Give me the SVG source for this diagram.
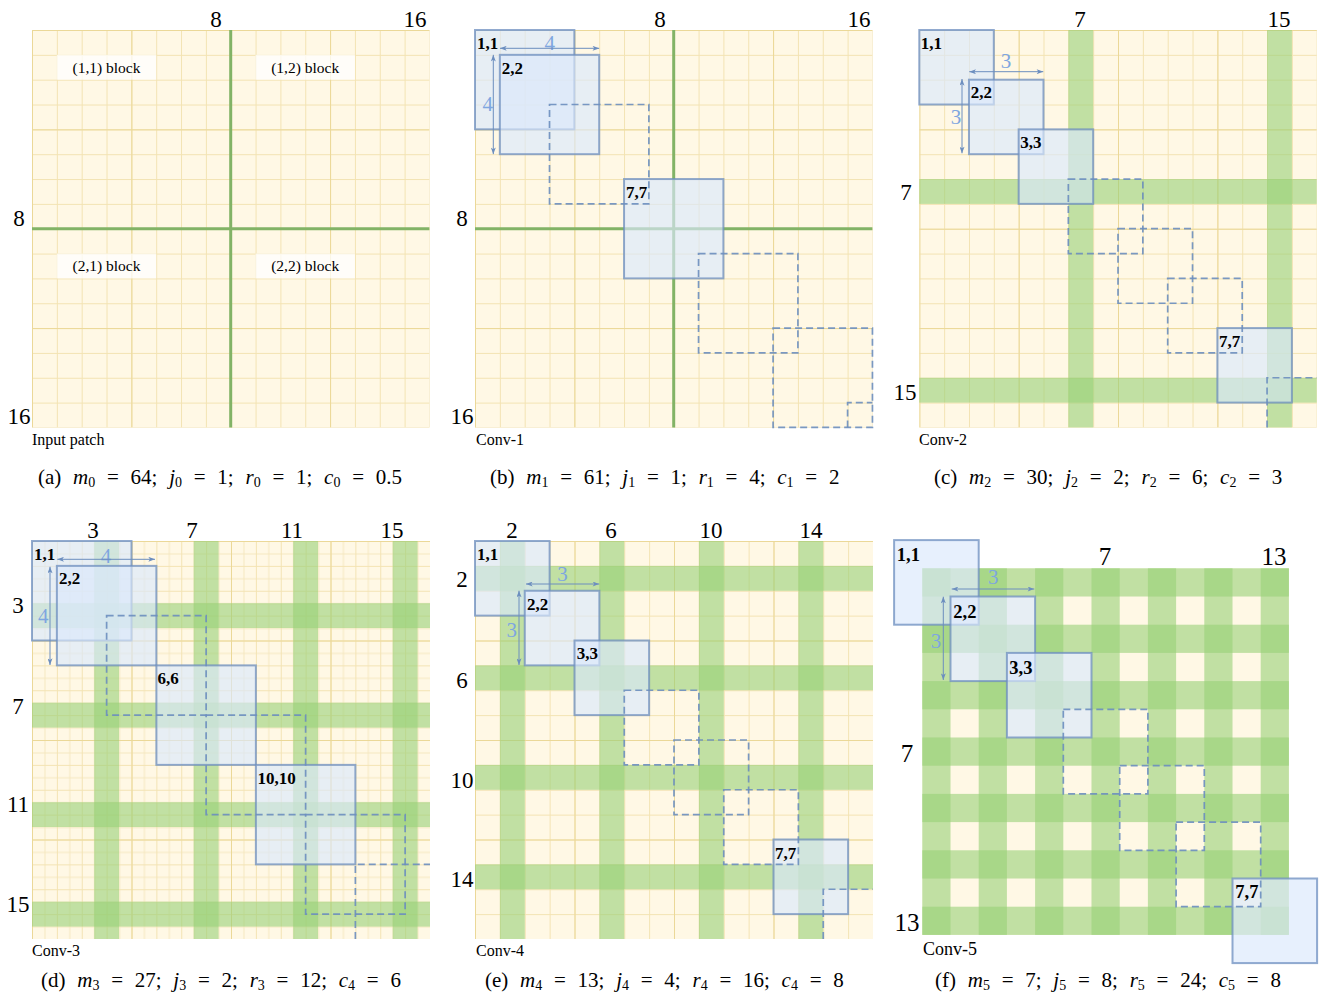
<svg xmlns="http://www.w3.org/2000/svg" width="1323" height="1004" viewBox="0 0 1323 1004">
<style>
.ax{font-family:"Liberation Serif",serif;font-size:23px;text-anchor:middle;fill:#000}
.axf{font-family:"Liberation Serif",serif;font-size:25px;text-anchor:middle;fill:#000}
.lb{font-family:"Liberation Serif",serif;font-size:17px;font-weight:bold;fill:#000}
.lbf{font-family:"Liberation Serif",serif;font-size:18.5px;font-weight:bold;fill:#000}
.cv{font-family:"Liberation Serif",serif;font-size:16px;fill:#000}
.cvf{font-family:"Liberation Serif",serif;font-size:18px;fill:#000}
.dim{font-family:"Liberation Serif",serif;font-size:21px;fill:#7ea6e0;text-anchor:middle}
.blk{font-family:"Liberation Serif",serif;font-size:15.5px;fill:#000;text-anchor:middle}
.cap{font-family:"Liberation Serif",serif;font-size:21px;fill:#000;word-spacing:6.5px}
.i{font-style:italic}
.s{font-size:14px}
.bg{fill:#fff8e5}
.band{fill:#97d077;fill-opacity:0.6}
.gl{stroke:#82b366;stroke-width:3}
.box{fill:#dae8fc;fill-opacity:0.65;stroke:#6c8ebf;stroke-opacity:0.75;stroke-width:2}
.dash{fill:none;stroke:#6c8ebf;stroke-width:1.7;stroke-dasharray:7 4;stroke-opacity:0.9}
.tag{fill:#fff;fill-opacity:0.75}
.arr{stroke:#6c8ebf;stroke-width:1;fill:none;marker-start:url(#ah);marker-end:url(#ah)}
</style>
<defs>
<marker id="ah" viewBox="0 0 8 6" refX="8" refY="3" markerWidth="7" markerHeight="5" orient="auto-start-reverse" markerUnits="userSpaceOnUse"><path d="M0,0 L8,3 L0,6 L2,3 z" fill="#6c8ebf"/></marker>
<pattern id="pA" width="24.84" height="24.84" patternUnits="userSpaceOnUse"><path d="M0 0.5H24.84M0.5 0V24.84" stroke="#f3e3b3" stroke-width="1" fill="none"/></pattern>
<pattern id="pA4" width="99.36" height="99.36" patternUnits="userSpaceOnUse"><path d="M0 0.5H99.36M0.5 0V99.36" stroke="#ebd898" stroke-width="1" fill="none"/></pattern>
<pattern id="pD" width="24.875" height="24.875" patternUnits="userSpaceOnUse"><path d="M0 0.5H24.875M0.5 0V24.875" stroke="#f3e3b3" stroke-width="1" fill="none"/></pattern>
<pattern id="pDh" width="24.875" height="24.875" patternUnits="userSpaceOnUse"><path d="M0 12.94H24.875M12.94 0V24.875" stroke="#f5e8c0" stroke-width="1" fill="none"/></pattern>
<pattern id="pD4" width="99.5" height="99.5" patternUnits="userSpaceOnUse"><path d="M0 0.5H99.5M0.5 0V99.5" stroke="#ebd898" stroke-width="1" fill="none"/></pattern>
</defs>
<rect width="1323" height="1004" fill="#fff"/>

<!-- Panel (a) -->
<g id="panel-a">
<g transform="translate(32,30)">
<rect class="bg" width="397.4" height="397.4"/>
<rect width="397.4" height="397.4" fill="url(#pA)"/>
<rect width="397.4" height="397.4" fill="url(#pA4)"/>
<line class="gl" x1="198.7" y1="0" x2="198.7" y2="397.4"/>
<line class="gl" x1="0" y1="198.7" x2="397.4" y2="198.7"/>
<g id="block-11"><rect class="tag" x="24.84" y="24.84" width="99.36" height="24.84"/><text class="blk" x="74.5" y="42.7">(1,1) block</text></g>
<g id="block-12"><rect class="tag" x="223.56" y="24.84" width="99.36" height="24.84"/><text class="blk" x="273.2" y="42.7">(1,2) block</text></g>
<g id="block-21"><rect class="tag" x="24.84" y="223.56" width="99.36" height="24.84"/><text class="blk" x="74.5" y="241.4">(2,1) block</text></g>
<g id="block-22"><rect class="tag" x="223.56" y="223.56" width="99.36" height="24.84"/><text class="blk" x="273.2" y="241.4">(2,2) block</text></g>
</g>
<text class="ax" x="216" y="27">8</text><text class="ax" x="415" y="27">16</text>
<text class="ax" x="19" y="226">8</text><text class="ax" x="19" y="424">16</text>
<text class="cv" x="32" y="445">Input patch</text>
<text class="cap" x="38" y="484">(a) <tspan class="i">m</tspan><tspan class="s" dy="3">0</tspan><tspan dy="-3"> = 64; </tspan><tspan class="i">j</tspan><tspan class="s" dy="3">0</tspan><tspan dy="-3"> = 1; </tspan><tspan class="i">r</tspan><tspan class="s" dy="3">0</tspan><tspan dy="-3"> = 1; </tspan><tspan class="i">c</tspan><tspan class="s" dy="3">0</tspan><tspan dy="-3"> = 0.5</tspan></text>
</g>

<!-- Panel (b) -->
<g id="panel-b">
<g transform="translate(475,30)">
<rect class="bg" width="397.4" height="397.4"/>
<rect width="397.4" height="397.4" fill="url(#pA)"/>
<rect width="397.4" height="397.4" fill="url(#pA4)"/>
<line class="gl" x1="198.7" y1="0" x2="198.7" y2="397.4"/>
<line class="gl" x1="0" y1="198.7" x2="397.4" y2="198.7"/>
<g id="b-n11"><rect class="box" x="0" y="0" width="99.36" height="99.36"/></g>
<g id="b-n22"><rect class="box" x="24.84" y="24.84" width="99.36" height="99.36"/></g>
<g id="b-n77"><rect class="box" x="149.04" y="149.04" width="99.36" height="99.36"/></g>
<rect class="dash" x="74.52" y="74.52" width="99.36" height="99.36"/>
<rect class="dash" x="223.56" y="223.56" width="99.36" height="99.36"/>
<rect class="dash" x="298.08" y="298.08" width="99.36" height="99.36"/>
<path class="dash" d="M372.6 397.4V372.6H397.4"/>
<text class="lb" x="2" y="19">1,1</text>
<text class="lb" x="26.8" y="43.8">2,2</text>
<text class="lb" x="151" y="168">7,7</text>
<text class="dim" x="74.7" y="20">4</text>
<text class="dim" x="12.7" y="80.7">4</text>
</g>
<text class="ax" x="660" y="27">8</text><text class="ax" x="859" y="27">16</text>
<text class="ax" x="462" y="226">8</text><text class="ax" x="462" y="424">16</text>
<text class="cv" x="476" y="445">Conv-1</text>
<text class="cap" x="490" y="484">(b) <tspan class="i">m</tspan><tspan class="s" dy="3">1</tspan><tspan dy="-3"> = 61; </tspan><tspan class="i">j</tspan><tspan class="s" dy="3">1</tspan><tspan dy="-3"> = 1; </tspan><tspan class="i">r</tspan><tspan class="s" dy="3">1</tspan><tspan dy="-3"> = 4; </tspan><tspan class="i">c</tspan><tspan class="s" dy="3">1</tspan><tspan dy="-3"> = 2</tspan></text>
</g>

<!-- Panel (c) -->
<g id="panel-c">
<g transform="translate(919.3,30)">
<rect class="bg" width="397.4" height="397.4"/>
<rect width="397.4" height="397.4" fill="url(#pA)"/>
<rect width="397.4" height="397.4" fill="url(#pA4)"/>
<rect class="band" x="149.04" y="0" width="24.84" height="397.4"/>
<rect class="band" x="347.76" y="0" width="24.84" height="397.4"/>
<rect class="band" x="0" y="149.04" width="397.4" height="24.84"/>
<rect class="band" x="0" y="347.76" width="397.4" height="24.84"/>
<g id="c-n11"><rect class="box" x="0" y="0" width="74.52" height="74.52"/></g>
<g id="c-n22"><rect class="box" x="49.68" y="49.68" width="74.52" height="74.52"/></g>
<g id="c-n33"><rect class="box" x="99.36" y="99.36" width="74.52" height="74.52"/></g>
<g id="c-n77"><rect class="box" x="298.08" y="298.08" width="74.52" height="74.52"/></g>
<rect class="dash" x="149.04" y="149.04" width="74.52" height="74.52"/>
<rect class="dash" x="198.72" y="198.72" width="74.52" height="74.52"/>
<rect class="dash" x="248.4" y="248.4" width="74.52" height="74.52"/>
<path class="dash" d="M347.76 397.4V347.76H397.4"/>
<text class="lb" x="1.5" y="18.5">1,1</text>
<text class="lb" x="51.4" y="68.3">2,2</text>
<text class="lb" x="100.9" y="117.5">3,3</text>
<text class="lb" x="299.8" y="316.7">7,7</text>
<text class="dim" x="86.7" y="38.3">3</text>
<text class="dim" x="36.7" y="94">3</text>
</g>
<text class="ax" x="1080" y="27">7</text><text class="ax" x="1279" y="27">15</text>
<text class="ax" x="906" y="200">7</text><text class="ax" x="905" y="400">15</text>
<text class="cv" x="919" y="445">Conv-2</text>
<text class="cap" x="934" y="484">(c) <tspan class="i">m</tspan><tspan class="s" dy="3">2</tspan><tspan dy="-3"> = 30; </tspan><tspan class="i">j</tspan><tspan class="s" dy="3">2</tspan><tspan dy="-3"> = 2; </tspan><tspan class="i">r</tspan><tspan class="s" dy="3">2</tspan><tspan dy="-3"> = 6; </tspan><tspan class="i">c</tspan><tspan class="s" dy="3">2</tspan><tspan dy="-3"> = 3</tspan></text>
</g>

<!-- Panel (d) -->
<g id="panel-d">
<g transform="translate(32,541)">
<rect class="bg" width="398" height="398"/>
<rect width="398" height="398" fill="url(#pDh)"/>
<rect width="398" height="398" fill="url(#pD)"/>
<rect width="398" height="398" fill="url(#pD4)"/>
<rect class="band" x="62.19" y="0" width="24.875" height="398"/>
<rect class="band" x="161.69" y="0" width="24.875" height="398"/>
<rect class="band" x="261.19" y="0" width="24.875" height="398"/>
<rect class="band" x="360.69" y="0" width="24.875" height="398"/>
<rect class="band" x="0" y="62.19" width="398" height="24.875"/>
<rect class="band" x="0" y="161.69" width="398" height="24.875"/>
<rect class="band" x="0" y="261.19" width="398" height="24.875"/>
<rect class="band" x="0" y="360.69" width="398" height="24.875"/>
<g id="d-n11"><rect class="box" x="0" y="0" width="99.5" height="99.5"/></g>
<g id="d-n22"><rect class="box" x="24.875" y="24.875" width="99.5" height="99.5"/></g>
<g id="d-n66"><rect class="box" x="124.375" y="124.375" width="99.5" height="99.5"/></g>
<g id="d-n1010"><rect class="box" x="223.875" y="223.875" width="99.5" height="99.5"/></g>
<rect class="dash" x="74.625" y="74.625" width="99.5" height="99.5"/>
<rect class="dash" x="174.125" y="174.125" width="99.5" height="99.5"/>
<rect class="dash" x="273.625" y="273.625" width="99.5" height="99.5"/>
<path class="dash" d="M323.375 398V323.375H398"/>
<text class="lb" x="2" y="19">1,1</text>
<text class="lb" x="26.9" y="43.4">2,2</text>
<text class="lb" x="125.6" y="143">6,6</text>
<text class="lb" x="225.4" y="242.5">10,10</text>
<text class="dim" x="74" y="21.7">4</text>
<text class="dim" x="11.3" y="82">4</text>
</g>
<text class="ax" x="93" y="538">3</text><text class="ax" x="192" y="538">7</text><text class="ax" x="292" y="538">11</text><text class="ax" x="392" y="538">15</text>
<text class="ax" x="18" y="613">3</text><text class="ax" x="18" y="714">7</text><text class="ax" x="18" y="812">11</text><text class="ax" x="18" y="912">15</text>
<text class="cv" x="32" y="956">Conv-3</text>
<text class="cap" x="41" y="987">(d) <tspan class="i">m</tspan><tspan class="s" dy="3">3</tspan><tspan dy="-3"> = 27; </tspan><tspan class="i">j</tspan><tspan class="s" dy="3">3</tspan><tspan dy="-3"> = 2; </tspan><tspan class="i">r</tspan><tspan class="s" dy="3">3</tspan><tspan dy="-3"> = 12; </tspan><tspan class="i">c</tspan><tspan class="s" dy="3">4</tspan><tspan dy="-3"> = 6</tspan></text>
</g>

<!-- Panel (e) -->
<g id="panel-e">
<g transform="translate(475,541)">
<rect class="bg" width="398" height="398"/>
<rect width="398" height="398" fill="url(#pD)"/>
<rect width="398" height="398" fill="url(#pD4)"/>
<rect class="band" x="24.875" y="0" width="24.875" height="398"/>
<rect class="band" x="124.375" y="0" width="24.875" height="398"/>
<rect class="band" x="223.875" y="0" width="24.875" height="398"/>
<rect class="band" x="323.375" y="0" width="24.875" height="398"/>
<rect class="band" x="0" y="24.875" width="398" height="24.875"/>
<rect class="band" x="0" y="124.375" width="398" height="24.875"/>
<rect class="band" x="0" y="223.875" width="398" height="24.875"/>
<rect class="band" x="0" y="323.375" width="398" height="24.875"/>
<g id="e-n11"><rect class="box" x="0" y="0" width="74.625" height="74.625"/></g>
<g id="e-n22"><rect class="box" x="49.75" y="49.75" width="74.625" height="74.625"/></g>
<g id="e-n33"><rect class="box" x="99.5" y="99.5" width="74.625" height="74.625"/></g>
<g id="e-n77"><rect class="box" x="298.5" y="298.5" width="74.625" height="74.625"/></g>
<rect class="dash" x="149.25" y="149.25" width="74.625" height="74.625"/>
<rect class="dash" x="199" y="199" width="74.625" height="74.625"/>
<rect class="dash" x="248.75" y="248.75" width="74.625" height="74.625"/>
<path class="dash" d="M348.25 398V348.25H398"/>
<text class="lb" x="2" y="19">1,1</text>
<text class="lb" x="52" y="69">2,2</text>
<text class="lb" x="101.7" y="117.5">3,3</text>
<text class="lb" x="300" y="317.5">7,7</text>
<text class="dim" x="87.5" y="39.7">3</text>
<text class="dim" x="36.7" y="95.7">3</text>
</g>
<text class="ax" x="512" y="538">2</text><text class="ax" x="611" y="538">6</text><text class="ax" x="711" y="538">10</text><text class="ax" x="811" y="538">14</text>
<text class="ax" x="462" y="587">2</text><text class="ax" x="462" y="688">6</text><text class="ax" x="462" y="788">10</text><text class="ax" x="462" y="887">14</text>
<text class="cv" x="476" y="956">Conv-4</text>
<text class="cap" x="485" y="987">(e) <tspan class="i">m</tspan><tspan class="s" dy="3">4</tspan><tspan dy="-3"> = 13; </tspan><tspan class="i">j</tspan><tspan class="s" dy="3">4</tspan><tspan dy="-3"> = 4; </tspan><tspan class="i">r</tspan><tspan class="s" dy="3">4</tspan><tspan dy="-3"> = 16; </tspan><tspan class="i">c</tspan><tspan class="s" dy="3">4</tspan><tspan dy="-3"> = 8</tspan></text>
</g>

<!-- Panel (f) -->
<g id="panel-f">
<g transform="translate(922.3,568.3)">
<rect class="bg" width="366.6" height="366.6"/>
<rect class="band" x="0" y="0" width="28.2" height="366.6"/>
<rect class="band" x="56.4" y="0" width="28.2" height="366.6"/>
<rect class="band" x="112.8" y="0" width="28.2" height="366.6"/>
<rect class="band" x="169.2" y="0" width="28.2" height="366.6"/>
<rect class="band" x="225.6" y="0" width="28.2" height="366.6"/>
<rect class="band" x="282" y="0" width="28.2" height="366.6"/>
<rect class="band" x="338.4" y="0" width="28.2" height="366.6"/>
<rect class="band" x="0" y="0" width="366.6" height="28.2"/>
<rect class="band" x="0" y="56.4" width="366.6" height="28.2"/>
<rect class="band" x="0" y="112.8" width="366.6" height="28.2"/>
<rect class="band" x="0" y="169.2" width="366.6" height="28.2"/>
<rect class="band" x="0" y="225.6" width="366.6" height="28.2"/>
<rect class="band" x="0" y="282" width="366.6" height="28.2"/>
<rect class="band" x="0" y="338.4" width="366.6" height="28.2"/>
<g id="f-n11"><rect class="box" x="-28.2" y="-28.2" width="84.6" height="84.6"/></g>
<g id="f-n22"><rect class="box" x="28.2" y="28.2" width="84.6" height="84.6"/></g>
<g id="f-n33"><rect class="box" x="84.6" y="84.6" width="84.6" height="84.6"/></g>
<g id="f-n77"><rect class="box" x="310.2" y="310.2" width="84.6" height="84.6"/></g>
<rect class="dash" x="141" y="141" width="84.6" height="84.6"/>
<rect class="dash" x="197.4" y="197.4" width="84.6" height="84.6"/>
<rect class="dash" x="253.8" y="253.8" width="84.6" height="84.6"/>
<text class="lbf" x="-25.5" y="-7">1,1</text>
<text class="lbf" x="31" y="50">2,2</text>
<text class="lbf" x="87" y="106">3,3</text>
<text class="lbf" x="313" y="330">7,7</text>
<text class="dim" x="71" y="15.7">3</text>
<text class="dim" x="13.7" y="79.7">3</text>
</g>
<text class="axf" x="1105" y="565">7</text><text class="axf" x="1274" y="565">13</text>
<text class="axf" x="907" y="762">7</text><text class="axf" x="907" y="931">13</text>
<text class="cvf" x="923" y="955">Conv-5</text>
<text class="cap" x="935" y="987">(f) <tspan class="i">m</tspan><tspan class="s" dy="3">5</tspan><tspan dy="-3"> = 7; </tspan><tspan class="i">j</tspan><tspan class="s" dy="3">5</tspan><tspan dy="-3"> = 8; </tspan><tspan class="i">r</tspan><tspan class="s" dy="3">5</tspan><tspan dy="-3"> = 24; </tspan><tspan class="i">c</tspan><tspan class="s" dy="3">5</tspan><tspan dy="-3"> = 8</tspan></text>
</g>

<g id="connectors">
<line class="arr" x1="500" y1="48.3" x2="599.2" y2="48.3"/>
<line class="arr" x1="493.3" y1="54.8" x2="493.3" y2="154.2"/>
<line class="arr" x1="969.3" y1="71.7" x2="1043.3" y2="71.7"/>
<line class="arr" x1="962" y1="79" x2="962" y2="153.3"/>
<line class="arr" x1="57.3" y1="559.3" x2="155" y2="559.3"/>
<line class="arr" x1="50" y1="566.7" x2="50" y2="665"/>
<line class="arr" x1="526" y1="584" x2="599.3" y2="584"/>
<line class="arr" x1="519" y1="590.7" x2="519" y2="665"/>
<line class="arr" x1="951.7" y1="589" x2="1034.3" y2="589"/>
<line class="arr" x1="943.3" y1="596.7" x2="943.3" y2="680"/>
</g>
</svg>
